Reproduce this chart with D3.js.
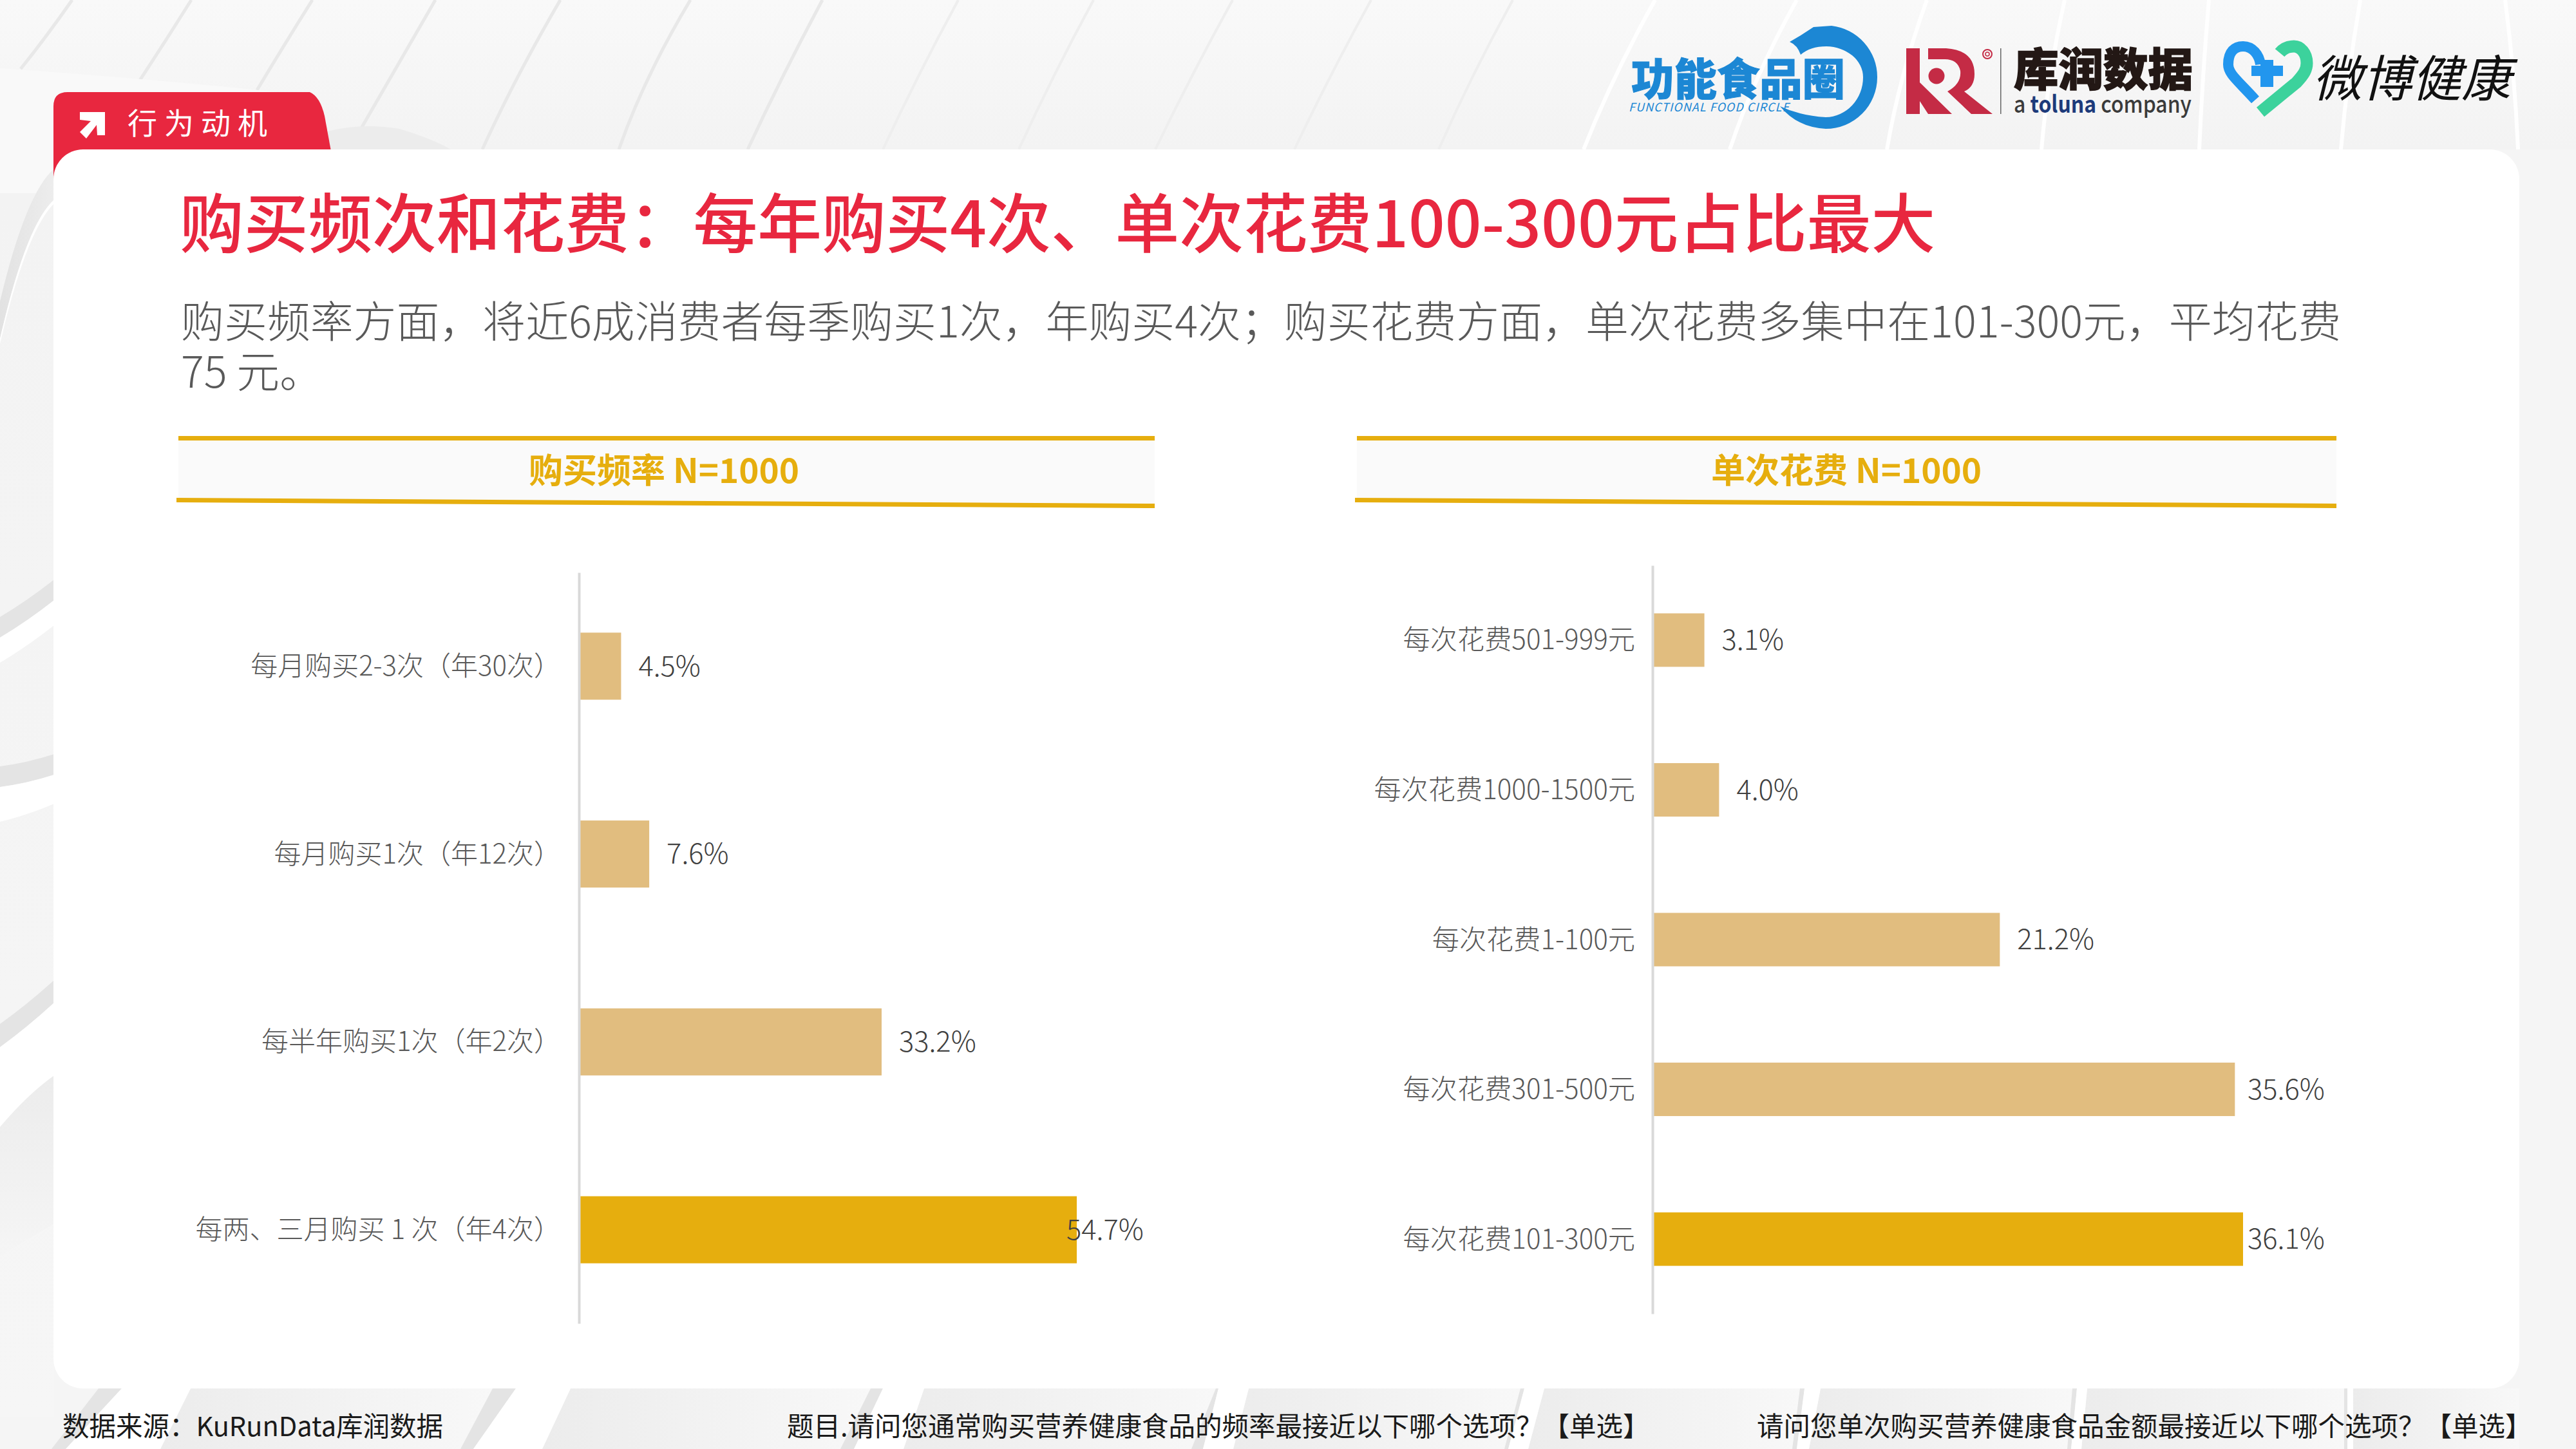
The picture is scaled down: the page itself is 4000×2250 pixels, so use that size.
<!DOCTYPE html>
<html><head><meta charset="utf-8">
<script src="https://cdn.jsdelivr.net/npm/d3@7/dist/d3.min.js"></script>
<style>html,body{margin:0;padding:0;background:#f5f5f5}svg{display:block}
text{font-family:"Noto Sans CJK SC","Noto Sans",sans-serif}</style></head>
<body><svg id="c" width="4000" height="2250" viewBox="0 0 4000 2250"></svg>
<script>
const freqCategories=["每月购买2-3次（年30次）","每月购买1次（年12次）","每半年购买1次（年2次）","每两、三月购买 1 次（年4次）"];
const freqValues=[4.5,7.6,33.2,54.7];
const spendCategories=["每次花费501-999元","每次花费1000-1500元","每次花费1-100元","每次花费301-500元","每次花费101-300元"];
const spendValues=[3.1,4.0,21.2,35.6,36.1];
const titleText="购买频次和花费：每年购买4次、单次花费100-300元占比最大";
const subLines=["购买频率方面，将近6成消费者每季购买1次，年购买4次；购买花费方面，单次花费多集中在101-300元，平均花费","75 元。"];
const tabText="行为动机";
const panelTitles=["购买频率 N=1000","单次花费 N=1000"];
const sourceText="数据来源：KuRunData库润数据";
const noteLeft="题目.请问您通常购买营养健康食品的频率最接近以下哪个选项？【单选】";
const noteRight="请问您单次购买营养健康食品金额最接近以下哪个选项？【单选】";

const RED="#E8273F",GOLD="#E6AE0E",TAN="#E1BD7F",GREY="#595959";
const svg=d3.select("#c");
const defs=svg.append("defs");
function grad(id,x2,y2,a,b){const g=defs.append("linearGradient").attr("id",id).attr("x1",0).attr("y1",0).attr("x2",x2).attr("y2",y2);
  g.append("stop").attr("offset",0).attr("stop-color",a);g.append("stop").attr("offset",1).attr("stop-color",b);}
grad("fan",1,0,"#ececec","#f8f8f8");
grad("topBg",0,1,"#f9f9f9","#f3f3f3");
grad("leftBg",0,1,"#f3f3f3","#f6f6f6");
grad("sw",1,0,"#e2e2e2","#ededed");
grad("lowFade",0,1,"#ececec","#f5f5f5");

// background
const bg=svg.append("g");
bg.append("rect").attr("width",4000).attr("height",2250).attr("fill","#f5f5f5");
bg.append("rect").attr("width",4000).attr("height",232).attr("fill","url(#topBg)");
const topGrey=[[112,70,60,32,107],[297,250,75,207,140],[485,438,75,399,140],[676,615,105,561,199],[870,800,120,749,232],[1072,1000,120,961,232],[1277,1215,116,1161,232],[1488,1425,116,1371,232],[1698,1635,116,1582,232],[1914,1850,116,1794,232],[2129,2065,116,2010,232],[2349,2285,116,2234,232]];
topGrey.forEach((p,i)=>bg.append("path").attr("d",`M${p[0]} 0Q${p[1]} ${p[2]} ${p[3]} ${p[4]}`).attr("fill","none").attr("stroke",i<7?"#e8e8e8":"#eeeeee").attr("stroke-width",i<7?5:4));
const topWhite=[[2570,2505,116,2459,232],[2790,2725,116,2686,232],[2992,2950,116,2930,232],[3206,3180,116,3170,232],[3430,3420,116,3415,232],[3665,3645,116,3635,232],[3890,3905,116,3910,232]];
topWhite.forEach(p=>bg.append("path").attr("d",`M${p[0]} 0Q${p[1]} ${p[2]} ${p[3]} ${p[4]}`).attr("fill","none").attr("stroke","#ffffff").attr("stroke-width",6));
bg.append("path").attr("d","M0 106Q230 122 430 143L520 240L83 300L0 300Z").attr("fill","#f9f9f9");
bg.append("path").attr("d","M505 205Q560 190 620 200Q670 215 700 232L515 240Z").attr("fill","#ececec");
bg.append("rect").attr("x",0).attr("y",300).attr("width",84).attr("height",1900).attr("fill","url(#leftBg)");
bg.append("path").attr("d","M84 262Q40 300 0 468L0 526Q40 350 84 310Z").attr("fill","url(#sw)");
bg.append("path").attr("d","M84 310Q40 350 0 526L0 534Q40 360 84 316Z").attr("fill","#fff");
const leftStripes=[[958,990,1029,900,932,971],[1190,1222,1276,1171,1203,1248],[1590,1626,1750,1522,1557,1670]];
leftStripes.forEach(s=>{
  bg.append("path").attr("d",`M0 ${s[0]}Q42 ${(s[0]+s[3])/2+4} 84 ${s[3]}L84 ${s[4]}Q42 ${(s[1]+s[4])/2+4} 0 ${s[1]}Z`).attr("fill","#e4e4e4");
  bg.append("path").attr("d",`M0 ${s[1]}Q42 ${(s[1]+s[4])/2+4} 84 ${s[4]}L84 ${s[5]}Q42 ${(s[2]+s[5])/2+4} 0 ${s[2]}Z`).attr("fill","#fff");
});
bg.append("path").attr("d","M0 1750Q42 1700 84 1670L84 1900L0 1950Z").attr("fill","url(#lowFade)");
const bottomBands=[[153,189,296,80,102,249],[765,801,886,715,735,842],[1352,1371,1435,1305,1326,1403],[1888,1892,1939,1850,1868,1915],[2361,2367,2398,2336,2342,2373],[2795,2802,2827,2783,2790,2809],[3218,3225,3241,3210,3216,3232],[3640,3645,3654,3640,3645,3654],[3912,3912,3912,3912,3912,3912]];
bottomBands.forEach((b,i)=>{
  if(i<bottomBands.length-1){const n=bottomBands[i+1];
    bg.append("path").attr("d",`M${b[2]} 2156L${n[0]} 2156L${n[3]} 2250L${b[5]} 2250Z`).attr("fill","url(#fan)");}
  bg.append("path").attr("d",`M${b[0]} 2156L${b[1]} 2156L${b[4]} 2250L${b[3]} 2250Z`).attr("fill","#e4e4e4");
  bg.append("path").attr("d",`M${b[1]} 2156L${b[2]} 2156L${b[5]} 2250L${b[4]} 2250Z`).attr("fill","#fff");
});

// tab
svg.append("path").attr("d","M83 285L83 165Q83 143 105 143L481 143Q497 150 504 180L515 240L515 285Z").attr("fill",RED);
svg.append("path").attr("d","M124 174L163 174L163 210L151 210L150 194L134 215L124 205L141 188L124 186Z").attr("fill","#fff");
svg.append("text").attr("x",198).attr("y",208).attr("font-size",46).attr("letter-spacing",11).attr("fill","#fff").text(tabText);

// card
svg.append("rect").attr("x",83).attr("y",232).attr("width",3829).attr("height",1924).attr("rx",46).attr("fill","#fff");

// title
svg.append("text").attr("x",279).attr("y",384).attr("font-size",99.7).attr("font-weight",500).attr("fill",RED).text(titleText);
svg.selectAll("text.sub").data(subLines).join("text").attr("class","sub").attr("x",281).attr("y",(d,i)=>524+i*78).attr("font-size",66.9).attr("font-weight",300).attr("fill",GREY).text(d=>d);

// panel headers
[[277,1793,1031],[2107,3628,2867]].forEach((p,i)=>{
  const h=svg.append("g");
  h.append("path").attr("d",`M${p[0]} 682L${p[1]} 680L${p[1]} 785L${p[0]} 775Z`).attr("fill","#fafafa");
  h.append("rect").attr("x",p[0]).attr("y",677).attr("width",p[1]-p[0]).attr("height",7).attr("fill",GOLD);
  h.append("path").attr("d",`M${p[0]-3} 773L${p[1]} 782L${p[1]} 789L${p[0]-3} 780Z`).attr("fill",GOLD);
  h.append("text").attr("x",p[2]).attr("y",750).attr("text-anchor","middle").attr("font-size",53).attr("font-weight",700).attr("fill",GOLD).text(panelTitles[i]);
});

// charts
function barChart(cats,vals,o){
  const g=svg.append("g");
  const y=d3.scaleBand().domain(cats).range([o.top,o.bottom]).paddingInner(o.pi).paddingOuter(o.po);
  const x=d3.scaleLinear().domain([0,o.maxV]).range([o.x0,o.x1]);
  const maxI=d3.max(vals);
  g.selectAll("rect").data(vals).join("rect")
    .attr("x",x(0)).attr("y",(d,i)=>y(cats[i])).attr("width",d=>x(d)-x(0)).attr("height",y.bandwidth())
    .attr("fill",d=>d===maxI?GOLD:TAN);
  const ax=g.append("g").attr("transform",`translate(${o.axisX},0)`).call(d3.axisLeft(y).tickSize(0).tickPadding(o.pad));
  ax.select(".domain").attr("stroke","#d9d9d9").attr("stroke-width",4);
  ax.selectAll("text").attr("font-size",o.fs).attr("font-weight",300).attr("fill",GREY).attr("font-family",'"Noto Sans CJK SC"').attr("transform","translate(0,1)");
  g.selectAll("text.v").data(vals).join("text").attr("class","v")
    .attr("x",d=>Math.min(x(d)+27,o.maxLabel)).attr("y",(d,i)=>y(cats[i])+y.bandwidth()/2).attr("dy","0.35em")
    .attr("font-size",43.5).attr("font-weight",300).attr("fill","#404040").text(d=>d.toFixed(1)+"%");
}
barChart(freqCategories,freqValues,{top:889,bottom:2055,pi:0.643,po:0.32,x0:901,x1:1672,maxV:54.7,axisX:899,pad:28,fs:42,maxLabel:1656});
barChart(spendCategories,spendValues,{top:878,bottom:2040,pi:0.643,po:0.32,x0:2568,x1:3483,maxV:36.1,axisX:2566,pad:27,fs:42.2,maxLabel:3490});

// footer
const ft=[[97,sourceText],[1222,noteLeft],[2728,noteRight]];
svg.selectAll("text.f").data(ft).join("text").attr("class","f").attr("x",d=>d[0]).attr("y",2230).attr("font-size",41.5).attr("fill","#1a1a1a").text(d=>d[1]);

// logos
const lg=svg.append("g");
const B="#1C87D4";
lg.append("path").attr("transform","translate(-4,0)").attr("d","M2783 65L2800 55L2820 42L2848 40A80 80 0 0 1 2919 120A80 80 0 0 1 2839 200Q2795 198 2768 165Q2800 180 2839 182A59 62 0 0 0 2897 120A58 48 0 0 0 2840 72Q2815 72 2800 85Q2795 70 2783 65Z").attr("fill",B);
lg.append("text").attr("x",2533).attr("y",148).attr("font-size",68).attr("font-weight",900).attr("fill",B).attr("stroke",B).attr("stroke-width",1).attr("textLength",332).attr("lengthAdjust","spacingAndGlyphs").text("功能食品圈");
lg.append("text").attr("x",2529).attr("y",173).attr("font-size",18).attr("font-style","italic").attr("fill",B).attr("font-family","Roboto").attr("textLength",249).attr("lengthAdjust","spacing").text("FUNCTIONAL FOOD CIRCLE");
const KR="#C42B45";
lg.append("path").attr("d","M2960 75L2981 75L2981 128L3031 177L2994 177L2981 157L2981 177L2960 177Z").attr("fill",KR);
lg.append("path").attr("d","M2994 75L3022 75Q3066 78 3066 115Q3066 135 3050 142L3094 177L3061 177L3024 142Q3046 130 3044 110Q3040 92 3020 92L2994 92Z").attr("fill",KR);
lg.append("circle").attr("cx",3007).attr("cy",118).attr("r",12.5).attr("fill",KR);
lg.append("circle").attr("cx",3086).attr("cy",84).attr("r",7).attr("fill","none").attr("stroke",KR).attr("stroke-width",2);
lg.append("circle").attr("cx",3086).attr("cy",84).attr("r",3).attr("fill","none").attr("stroke",KR).attr("stroke-width",1.5);
lg.append("rect").attr("x",3106).attr("y",75).attr("width",1.5).attr("height",102).attr("fill","#666");
lg.append("text").attr("x",3127).attr("y",134).attr("font-size",70).attr("font-weight",900).attr("fill","#231815").attr("stroke","#231815").attr("stroke-width",1.5).attr("textLength",278).attr("lengthAdjust","spacingAndGlyphs").text("库润数据");
const tl=lg.append("text").attr("x",3127).attr("y",175).attr("font-size",36).attr("font-family","Inter").attr("font-weight",500).attr("fill","#3a3a3a").attr("textLength",276).attr("lengthAdjust","spacingAndGlyphs");
tl.append("tspan").text("a ");tl.append("tspan").attr("fill","#1c3a7a").attr("font-weight",700).text("toluna");tl.append("tspan").text(" company");
lg.append("path").attr("d","M3502 155C3475 125 3460 115 3460 100C3460 80 3470 72 3483 72C3498 72 3508 85 3510 100").attr("fill","none").attr("stroke","#2296EE").attr("stroke-width",16);
lg.append("path").attr("d","M3510 174L3566 128C3578 115 3582 108 3582 98C3582 82 3572 72 3562 72C3552 72 3545 76 3540 82").attr("fill","none").attr("stroke","#3CD29C").attr("stroke-width",19);
lg.append("path").attr("d","M3496 102L3510 102L3510 93L3530 93L3530 102L3545 102L3545 118L3530 118L3530 135L3510 135L3510 118L3496 118Z").attr("fill","#2296EE");
lg.append("text").attr("x",3591).attr("y",150).attr("font-size",77).attr("font-weight",400).attr("font-style","italic").attr("fill","#111").attr("textLength",308).attr("lengthAdjust","spacingAndGlyphs").text("微博健康");
</script></body></html>
